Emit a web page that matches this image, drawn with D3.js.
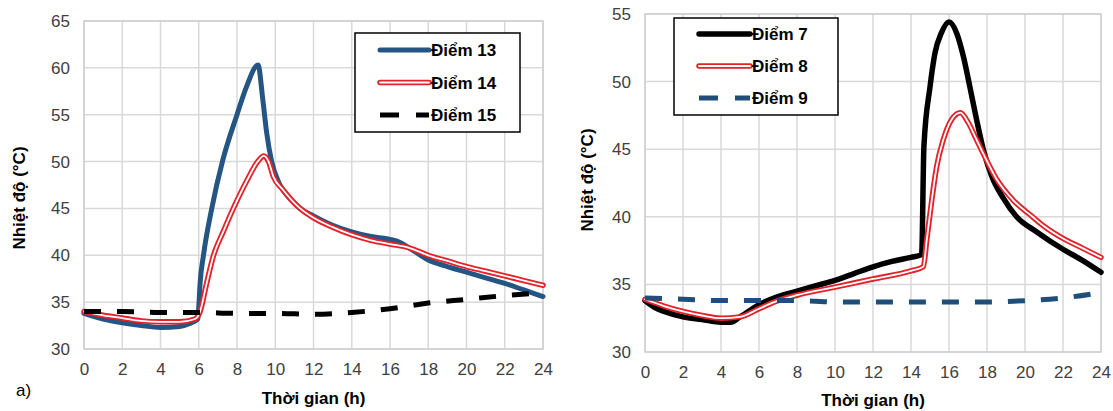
<!DOCTYPE html>
<html><head><meta charset="utf-8">
<script src="https://cdn.jsdelivr.net/npm/d3@7"></script>
<style>body{margin:0;background:#fff}svg{display:block}text{font-family:"Liberation Sans",Arial,sans-serif}</style>
</head><body><svg id="c" width="1113" height="411"></svg>
<script>
// ---- data ----
const xTicks = [0,2,4,6,8,10,12,14,16,18,20,22,24];
const leftYTicks = [30,35,40,45,50,55,60,65];
const rightYTicks = [30,35,40,45,50,55];

const hours13 = [0,1,2,3,4,5,5.5,5.95,6.0,6.07,6.24,6.68,7.25,8.0,8.5,9.1,9.35,9.55,9.8,10.2,10.75,11.3,12,13,14,15,16,16.5,17,18,19,20,21,22,23,24];
const temp13  = [33.8,33.2,32.8,32.5,32.3,32.4,32.7,33.2,34.4,37.0,39.9,45.0,50.1,55,58,60.3,56.6,53.1,50.1,47.7,46.1,45.0,44.2,43.2,42.5,42.0,41.7,41.4,40.8,39.5,38.8,38.2,37.6,37.0,36.3,35.6];
const hours14 = [0,1,2,3,4,5,5.8,6.07,6.4,6.76,7.3,7.81,8.5,9.12,9.4,9.65,9.9,10.4,11.3,12,13,14,15,16,17,18,19,20,21,22,23,24];
const temp14  = [34.0,33.6,33.3,33.0,32.9,32.9,33.2,34.0,36.9,39.9,42.6,45.0,47.9,50.1,50.6,50.0,48.4,47.0,45.0,44.0,43.0,42.2,41.6,41.2,40.8,40.0,39.4,38.8,38.3,37.8,37.3,36.8];
const hours15 = [0,2,4,6,8,10,12,14,16,18,20,22,24];
const temp15  = [34.0,34.0,33.9,33.9,33.8,33.8,33.7,33.9,34.3,34.9,35.3,35.7,36.0];

const hours7 = [0,0.5,1,2,3,4,4.5,5,6,7,8,9,10,11,12,13,14,14.56,14.68,15.0,15.26,15.6,16.0,16.4,16.75,17.1,17.45,17.8,18.25,18.85,19.56,20.6,22,23,24];
const temp7  = [33.8,33.3,33.0,32.6,32.4,32.2,32.2,32.6,33.5,34.1,34.5,34.9,35.3,35.8,36.3,36.7,37.0,37.2,45.2,49.6,52.1,53.6,54.4,53.6,51.9,49.6,47.2,45.0,43.0,41.4,40.0,38.9,37.6,36.8,35.9];
const hours8 = [0,1,2,3,4,5,6,7,8,10,12,14,14.65,14.83,15.1,15.35,15.7,16.14,16.6,17.0,17.45,17.9,18.5,19.4,20.4,21,22,23,24];
const temp8  = [33.9,33.4,33.0,32.7,32.5,32.6,33.2,33.8,34.2,34.8,35.4,36.0,36.3,38.3,41.3,43.7,45.7,47.2,47.7,47.0,45.7,44.4,42.8,41.2,40.0,39.3,38.4,37.7,37.0];
const hours9 = [0,2,4,6,8,10,12,14,16,18,20,22,24];
const temp9  = [34.0,33.9,33.8,33.8,33.8,33.7,33.7,33.7,33.7,33.7,33.8,34.0,34.4];

const leftNames = ["Điểm 13","Điểm 14","Điểm 15"];
const rightNames = ["Điểm 7","Điểm 8","Điểm 9"];
const yTitle = "Nhiệt độ (°C)";
const xTitle = "Thời gian (h)";

// ---- styles ----
const BLUE = "#245583", RED = "#e3222a";
const styles = {
  solidBlue: {type:"solid", color:BLUE, w:5},
  solidBlack: {type:"solid", color:"#000", w:5.5},
  double: {type:"double", color:RED, w:5.5},
  dashBlack: {type:"dash", color:"#000", w:5},
  dashBlue: {type:"dash", color:"#1f4e79", w:5}
};

const svg = d3.select("#c");
const FS = 17;

function draw(cfg){
  const x = d3.scaleLinear().domain([0,24]).range([cfg.left,cfg.right]);
  const y = d3.scaleLinear().domain(cfg.yDomain).range([cfg.bottom,cfg.top]);
  const g = svg.append("g");
  g.selectAll(".vg").data(xTicks).join("line").attr("x1",d=>x(d)).attr("x2",d=>x(d))
    .attr("y1",cfg.top).attr("y2",cfg.bottom).attr("stroke","#d9d9d9").attr("stroke-width",1.5);
  g.selectAll(".hg").data(cfg.yTicks).join("line").attr("y1",d=>y(d)).attr("y2",d=>y(d))
    .attr("x1",cfg.left).attr("x2",cfg.right).attr("stroke","#d9d9d9").attr("stroke-width",1.5);
  g.append("rect").attr("x",cfg.left).attr("y",cfg.top).attr("width",cfg.right-cfg.left)
    .attr("height",cfg.bottom-cfg.top).attr("fill","none").attr("stroke","#cfcfcf").attr("stroke-width",1.5);
  const xa = g.append("g").attr("transform",`translate(0,${cfg.bottom})`)
    .call(d3.axisBottom(x).tickValues(xTicks).tickSize(0).tickPadding(14));
  const ya = g.append("g").attr("transform",`translate(${cfg.left},0)`)
    .call(d3.axisLeft(y).tickValues(cfg.yTicks).tickSize(0).tickPadding(cfg.yPad));
  [xa,ya].forEach(a=>{a.select(".domain").remove();
    a.selectAll("text").attr("font-size",FS).attr("fill","#404040").attr("font-family","Liberation Sans, Arial, sans-serif");});
  g.append("text").attr("x",(cfg.left+cfg.right)/2).attr("y",cfg.xTitleY).attr("text-anchor","middle")
    .attr("font-size",FS).attr("font-weight","bold").text(xTitle);
  g.append("text").attr("transform",`translate(${cfg.yTitleX},${cfg.yTitleY}) rotate(-90)`)
    .attr("text-anchor","middle").attr("font-size",FS).attr("font-weight","bold").text(yTitle);
  const line = d3.line().x(d=>x(d[0])).y(d=>y(d[1])).curve(d3.curveMonotoneX);
  cfg.series.forEach(s=>{
    const pts = s.h.map((h,i)=>[h,s.v[i]]);
    drawStyled(g, line(pts), s.style);
  });
  const L = cfg.legend;
  g.append("rect").attr("x",L.x).attr("y",L.y).attr("width",L.w).attr("height",L.h)
    .attr("fill","#fff").attr("stroke","#000").attr("stroke-width",1.5);
  cfg.series.forEach((s,i)=>{
    const yy = L.y + L.row0 + i*L.dy;
    drawStyled(g, `M${L.x+L.lx0},${yy}L${L.x+L.lx1},${yy}`, s.style, true);
    g.append("text").attr("x",L.x+L.lx1+2).attr("y",yy).attr("dy","0.36em")
      .attr("font-size",FS).attr("font-weight","bold").attr("fill","#000").text(s.name);
  });
}
function drawStyled(g, d, st, legend){
  if(st.type==="solid"){
    g.append("path").attr("d",d).attr("fill","none").attr("stroke",st.color).attr("stroke-width",st.w).attr("stroke-linejoin","round").attr("stroke-linecap","round");
  } else if(st.type==="double"){
    g.append("path").attr("d",d).attr("fill","none").attr("stroke",st.color).attr("stroke-width",st.w).attr("stroke-linejoin","round").attr("stroke-linecap","round");
    g.append("path").attr("d",d).attr("fill","none").attr("stroke","#fff").attr("stroke-width",1.8).attr("stroke-linejoin","round").attr("stroke-linecap","round");
  } else {
    g.append("path").attr("d",d).attr("fill","none").attr("stroke",st.color).attr("stroke-width",st.w)
      .attr("stroke-dasharray", legend ? "19,17" : "17,16").attr("stroke-linecap","butt");
  }
}

draw({left:84,right:543,top:21,bottom:349,yDomain:[30,65],yTicks:leftYTicks,yPad:14,
  xTitleY:404,yTitleX:25,yTitleY:198,
  legend:{x:355,y:33,w:165,h:99,row0:17,dy:32.5,lx0:25,lx1:74},
  series:[
    {name:leftNames[0],h:hours13,v:temp13,style:styles.solidBlue},
    {name:leftNames[1],h:hours14,v:temp14,style:styles.double},
    {name:leftNames[2],h:hours15,v:temp15,style:styles.dashBlack}
  ]});
draw({left:645,right:1101,top:14,bottom:352,yDomain:[30,55],yTicks:rightYTicks,yPad:14,
  xTitleY:406,yTitleX:593,yTitleY:180,
  legend:{x:674,y:18,w:164,h:97,row0:16,dy:32,lx0:25,lx1:76},
  series:[
    {name:rightNames[0],h:hours7,v:temp7,style:styles.solidBlack},
    {name:rightNames[1],h:hours8,v:temp8,style:styles.double},
    {name:rightNames[2],h:hours9,v:temp9,style:styles.dashBlue}
  ]});
svg.append("text").attr("x",16).attr("y",396).attr("font-size",FS).attr("fill","#000").text("a)");
</script></body></html>
